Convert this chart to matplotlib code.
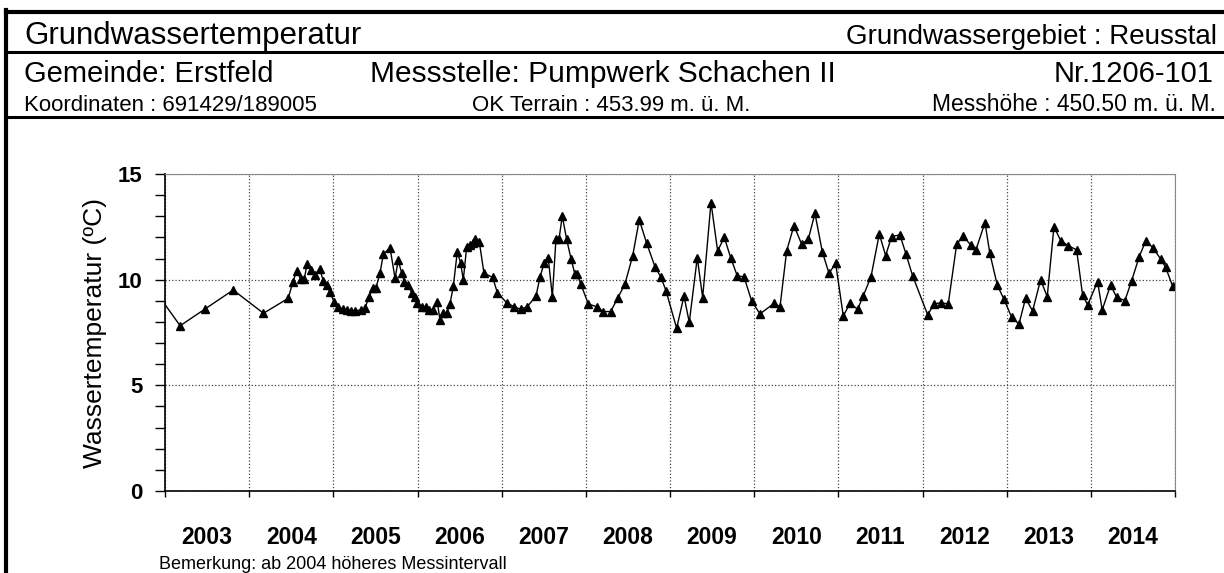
import matplotlib
matplotlib.use('Agg')
import matplotlib.pyplot as plt
from matplotlib.lines import Line2D
import numpy as np

plt.rcParams['font.family'] = ['Liberation Sans', 'DejaVu Sans']

# Messzeitpunkte (Dezimaljahre) und Wassertemperatur in Grad C
zeit = [
    2002.95, 2003.18, 2003.475, 2003.81, 2004.17, 2004.465, 2004.517, 2004.565,
    2004.612, 2004.655, 2004.687, 2004.738, 2004.786, 2004.838, 2004.881,
    2004.921, 2004.96, 2005.008, 2005.059, 2005.111, 2005.159, 2005.206,
    2005.257, 2005.325, 2005.376, 2005.424, 2005.475, 2005.507, 2005.554,
    2005.594, 2005.673, 2005.733, 2005.772, 2005.812, 2005.843, 2005.891,
    2005.931, 2005.97, 2005.998, 2006.05, 2006.10, 2006.14, 2006.188,
    2006.235, 2006.267, 2006.307, 2006.347, 2006.386, 2006.426, 2006.473,
    2006.513, 2006.544, 2006.584, 2006.624, 2006.656, 2006.683, 2006.734,
    2006.79, 2006.893, 2006.948, 2007.059, 2007.146, 2007.226, 2007.304,
    2007.408, 2007.455, 2007.503, 2007.554, 2007.602, 2007.645, 2007.681,
    2007.72, 2007.772, 2007.824, 2007.871, 2007.899, 2007.939, 2008.03,
    2008.13, 2008.208, 2008.295, 2008.378, 2008.465, 2008.556, 2008.635,
    2008.723, 2008.821, 2008.893, 2008.952, 2009.079, 2009.166, 2009.229,
    2009.324, 2009.388, 2009.487, 2009.566, 2009.645, 2009.721, 2009.80,
    2009.879, 2009.97, 2010.069, 2010.236, 2010.307, 2010.386, 2010.473,
    2010.564, 2010.643, 2010.722, 2010.809, 2010.889, 2010.968, 2011.059,
    2011.138, 2011.229, 2011.296, 2011.388, 2011.487, 2011.562, 2011.633,
    2011.732, 2011.803, 2011.882, 2012.062, 2012.137, 2012.216, 2012.306,
    2012.406, 2012.484, 2012.572, 2012.635, 2012.742, 2012.80, 2012.888,
    2012.968, 2013.059, 2013.146, 2013.225, 2013.308, 2013.403, 2013.482,
    2013.562, 2013.641, 2013.732, 2013.831, 2013.902, 2013.962, 2014.08,
    2014.135, 2014.235, 2014.306, 2014.405, 2014.485, 2014.575, 2014.654,
    2014.741, 2014.829, 2014.888, 2014.971,
]
temperatur = [
    9.1, 7.82, 8.61, 9.51, 8.41, 9.12, 9.87, 10.41,
    10.03, 10.03, 10.73, 10.46, 10.24, 10.51, 9.94,
    9.75, 9.40, 8.96, 8.72, 8.60, 8.56, 8.53,
    8.53, 8.56, 8.64, 9.2, 9.59, 9.62, 10.30,
    11.2, 11.52, 10.07, 10.93, 10.30, 9.91, 9.75,
    9.36, 9.2, 8.91, 8.72, 8.72, 8.57, 8.57,
    8.96, 8.09, 8.41, 8.41, 8.85, 9.70, 11.33,
    10.77, 9.99, 11.53, 11.64, 11.72, 11.91, 11.8,
    10.30, 10.11, 9.39, 8.91, 8.72, 8.60, 8.72,
    9.23, 10.11, 10.77, 11.01, 9.2, 11.91, 11.91,
    13.01, 11.91, 10.99, 10.25, 10.25, 9.80, 8.85,
    8.72, 8.49, 8.49, 9.12, 9.80, 11.12, 12.83,
    11.72, 10.62, 10.11, 9.48, 7.70, 9.23, 7.98,
    11.04, 9.15, 13.65, 11.36, 12.0, 11.04, 10.17,
    10.14, 8.99, 8.38, 8.88, 8.72, 11.36, 12.56,
    11.68, 11.91, 13.14, 11.33, 10.30, 10.77, 8.28,
    8.88, 8.60, 9.23, 10.14, 12.16, 11.14, 12.04,
    12.12, 11.22, 10.19, 8.33, 8.85, 8.91, 8.85,
    11.68, 12.07, 11.64, 11.41, 12.70, 11.25, 9.75,
    9.07, 8.22, 7.90, 9.12, 8.52, 9.99, 9.20,
    12.51, 11.85, 11.61, 11.41, 9.28, 8.80, 9.91,
    8.57, 9.75, 9.17, 9.01, 9.95, 11.09, 11.85,
    11.49, 10.98, 10.59, 9.70,
]
jahre = list(range(2003, 2015))

fig = plt.figure(figsize=(12.24, 5.73), dpi=100)
ax = fig.add_axes([165/1224, 1 - 491/573, 1010/1224, 317/573])

ax.plot(zeit, temperatur, color='black', lw=1.0, marker='^', ms=5.5,
        markerfacecolor='black', markeredgecolor='black', clip_on=True)

ax.set_xlim(2003, 2015)
ax.set_ylim(0, 15)

# Achsen / Gitter
ax.set_xticks(range(2003, 2016))
ax.set_xticklabels([])
ax.set_xticks([j + 0.5 for j in jahre], minor=True)
ax.set_xticklabels([str(j) for j in jahre], minor=True, fontsize=16.5,
                   fontweight='bold')
ax.tick_params(axis='x', which='major', direction='out', length=4, width=1)
ax.tick_params(axis='x', which='minor', length=0, pad=25)

ax.set_yticks([0, 5, 10, 15])
ax.set_yticklabels(['0', '5', '10', '15'], fontsize=16, fontweight='bold')
ax.set_yticks(range(0, 16), minor=True)
ax.tick_params(axis='y', which='both', direction='out', length=7, width=1,
               pad=9)

ax.grid(True, which='major', axis='both', linestyle=':', color='#444444',
        lw=0.9)
ax.spines['top'].set_color('#888888')
ax.spines['right'].set_color('#888888')
ax.spines['left'].set_linewidth(1.2)
ax.spines['bottom'].set_linewidth(1.2)

ax.set_ylabel('Wassertemperatur (ºC)', fontsize=19, labelpad=8)

# Kopfzeile
def hline(y, lw):
    fig.add_artist(Line2D([6/1224, 1], [1 - y/573] * 2, color='black', lw=lw,
                          transform=fig.transFigure))

fig.add_artist(Line2D([6/1224, 6/1224], [0, 1 - 10/573], color='black', lw=3,
                      transform=fig.transFigure))
hline(12, 3)
hline(52, 2.2)
hline(117, 2.2)

def ftext(x, y, s, size, ha='left'):
    fig.text(x/1224, 1 - y/573, s, fontsize=size, ha=ha, va='baseline')

ftext(24, 44, 'Grundwassertemperatur', 22.5)
ftext(1217, 44, 'Grundwassergebiet : Reusstal', 20, 'right')
ftext(24, 82, 'Gemeinde: Erstfeld', 21)
ftext(370, 82, 'Messstelle: Pumpwerk Schachen II', 21.5)
ftext(1213, 82, 'Nr.1206-101', 21, 'right')
ftext(24, 111, 'Koordinaten : 691429/189005', 16)
ftext(472, 111, 'OK Terrain : 453.99 m. ü. M.', 16)
ftext(1216, 111, 'Messhöhe : 450.50 m. ü. M.', 16.5, 'right')
ftext(159, 569, 'Bemerkung: ab 2004 höheres Messintervall', 13)

fig.savefig('out.png', dpi=100)
